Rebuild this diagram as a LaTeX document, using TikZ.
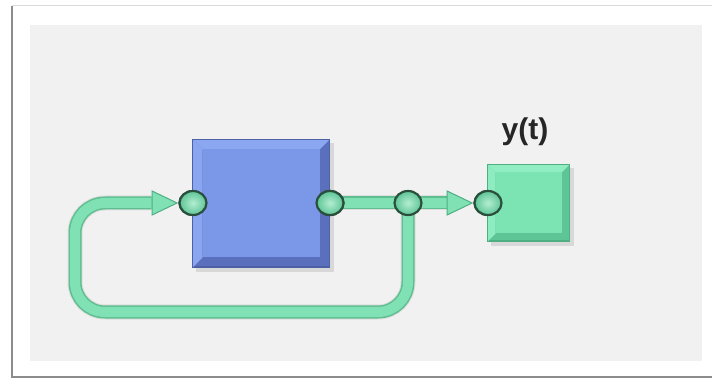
\documentclass[tikz,border=0pt]{standalone}
\usepackage{fontspec}
\setsansfont{Liberation Sans}
\usetikzlibrary{shapes.geometric}
\pgfdeclarelayer{back}
\pgfdeclarelayer{mid}
\pgfsetlayers{back,mid,main}
\definecolor{panel}{HTML}{F1F1F1}
\definecolor{tubefill}{HTML}{80E2B4}
\definecolor{tubeedge}{HTML}{5EBE90}
\definecolor{blueface}{HTML}{7B97E8}
\definecolor{bluelight}{HTML}{8CA7F2}
\definecolor{bluedark}{HTML}{5A70BD}
\definecolor{blueline}{HTML}{4D62A6}
\definecolor{greenface}{HTML}{7CE3B2}
\definecolor{greenlight}{HTML}{90EEC2}
\definecolor{greendark}{HTML}{5EC596}
\definecolor{greenline}{HTML}{4FAE82}
\definecolor{portline}{HTML}{2A4F3C}
\tikzset{
  bluebox/.style={draw=blueline, line width=1pt, fill=bluedark, minimum width=136pt, minimum height=127pt, inner sep=0pt},
  greenbox/.style={draw=greenline, line width=1pt, fill=greendark, minimum width=81pt, minimum height=76pt, inner sep=0pt},
  port/.style={ellipse, draw=portline, line width=2.2pt, minimum width=27pt, minimum height=24pt, inner sep=0pt,
    inner color=tubefill!60!white, outer color=greendark},
  tri/.style={isosceles triangle, isosceles triangle stretches, minimum width=24pt, minimum height=25pt, inner sep=0pt,
    fill=tubefill, draw=greenline, line width=1pt},
  tubeout/.style={line width=13pt, draw=tubeedge},
  tubein/.style={line width=10pt, draw=tubefill},
  tubeshadow/.style={line width=15pt, draw=black, opacity=0.08},
  lbl/.style={font=\fontsize{30}{30}\selectfont\sffamily\bfseries, text=black!85, inner sep=0pt}
}
\begin{document}
\begin{tikzpicture}[x=1pt,y=-1pt]
\useasboundingbox (0,0) rectangle (712,379);
\begin{pgfonlayer}{back}
\fill[white] (0,0) rectangle (712,379);
% frame
\draw[black!15, line width=1pt] (12,6) -- (712,6);
\draw[black!45, line width=2pt] (12,6) -- (12,377) -- (712,377);
\fill[panel] (30,25) rectangle (702,361);
\end{pgfonlayer}

% nodes
\node[bluebox] (sys) at (261,203.5) {};
\node[greenbox] (outb) at (528.5,203) {};
\node[lbl] (ylab) at (525,132) {y(t)};
\node[port] (pin) at (193,203) {};
\node[port] (pout) at (330,203) {};
\node[port] (br) at (408,203) {};
\node[port] (gin) at (488,203) {};
\node[tri, anchor=apex] (a1) at (pin.west) {};
\node[tri, anchor=apex] (a2) at (gin.west) {};
\coordinate (lp) at (75,312);

% bevels
\fill[bluelight] (sys.north west) -- (sys.north east) -- ([shift={(-10,10)}]sys.north east) -- ([shift={(10,10)}]sys.north west) -- cycle;
\fill[bluelight!92!blueface] (sys.north west) -- ([shift={(10,10)}]sys.north west) -- ([shift={(10,-10)}]sys.south west) -- (sys.south west) -- cycle;
\fill[blueface] ([shift={(10,10)}]sys.north west) rectangle ([shift={(-10,-10)}]sys.south east);
\draw[blueline, line width=1pt] (sys.north west) rectangle (sys.south east);
\fill[greenlight] (outb.north west) -- (outb.north east) -- ([shift={(-8,8)}]outb.north east) -- ([shift={(8,8)}]outb.north west) -- cycle;
\fill[greenlight!90!greenface] (outb.north west) -- ([shift={(8,8)}]outb.north west) -- ([shift={(8,-8)}]outb.south west) -- (outb.south west) -- cycle;
\fill[greenface] ([shift={(8,8)}]outb.north west) rectangle ([shift={(-8,-8)}]outb.south east);
\draw[greenline, line width=1pt] (outb.north west) rectangle (outb.south east);
% redraw ports on top of the box faces
\node[port] at (pin) {};
\node[port] at (pout) {};
\node[port] at (gin) {};

% connectors
\begin{pgfonlayer}{back}
  \draw[tubeshadow, rounded corners=30pt, shift={(2,4)}] (br.center) |- (lp) |- (a1.west);
  \draw[tubeshadow, shift={(2,4)}] (pout.center) -- (a2.west);
  \fill[black, opacity=0.10] ([shift={(3,4)}]sys.north west) rectangle ([shift={(4,5)}]sys.south east);
  \fill[black, opacity=0.10] ([shift={(3,4)}]outb.north west) rectangle ([shift={(4,5)}]outb.south east);
\end{pgfonlayer}
\begin{pgfonlayer}{mid}
  \draw[tubeout, rounded corners=30pt] (br.center) |- (lp) |- (a1.west);
  \draw[tubein, rounded corners=30pt] (br.center) |- (lp) |- (a1.west);
  \draw[tubeout] (pout.center) -- (br.center);
  \draw[tubein] (pout.center) -- (br.center);
  \draw[tubeout] (br.center) -- (a2.west);
  \draw[tubein] (br.center) -- (a2.west);
\end{pgfonlayer}
\end{tikzpicture}
\end{document}
